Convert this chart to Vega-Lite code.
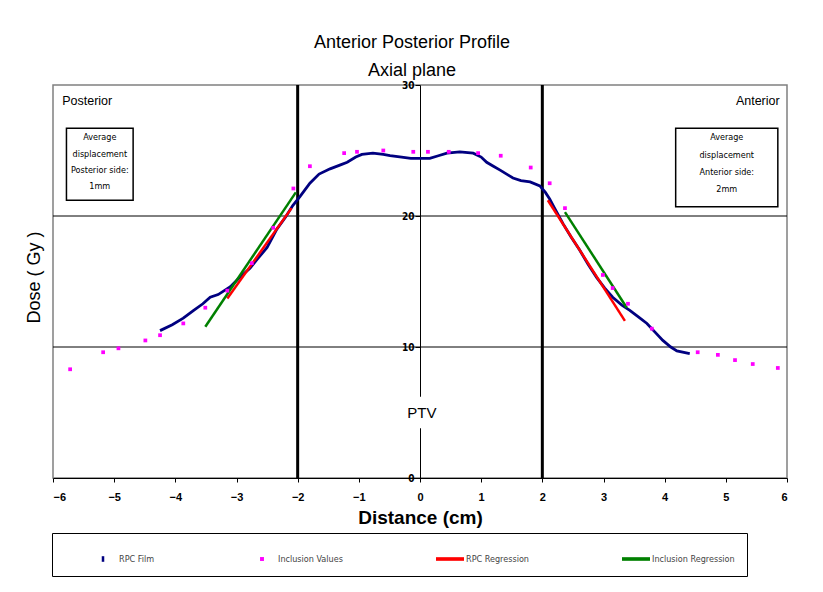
{
  "$schema": "https://vega.github.io/schema/vega-lite/v6.json",
  "autosize": "none",
  "width": 734,
  "height": 393,
  "padding": {"left": 53, "top": 85, "right": 36, "bottom": 114},
  "background": "white",
  "data": {"values": [{}]},
  "config": {
    "view": {"stroke": "#808080", "strokeWidth": 1.5},
    "font": "Liberation Sans"
  },
  "title": {
    "text": "Anterior Posterior Profile",
    "subtitle": "Axial plane",
    "fontSize": 18,
    "fontWeight": "normal",
    "subtitleFontSize": 18,
    "subtitleColor": "black",
    "subtitlePadding": 10,
    "font": "Liberation Sans",
    "subtitleFont": "Liberation Sans",
    "anchor": "middle",
    "dx": -8,
    "offset": 0
  },
  "datasets": {
    "film": [
      {"series": "RPC Film", "x": -4.25, "y": 11.25}, {"series": "RPC Film", "x": -4.05, "y": 11.7},
      {"series": "RPC Film", "x": -3.87, "y": 12.2}, {"series": "RPC Film", "x": -3.7, "y": 12.8},
      {"series": "RPC Film", "x": -3.55, "y": 13.3}, {"series": "RPC Film", "x": -3.43, "y": 13.8},
      {"series": "RPC Film", "x": -3.3, "y": 14.0}, {"series": "RPC Film", "x": -3.1, "y": 14.6},
      {"series": "RPC Film", "x": -2.95, "y": 15.3}, {"series": "RPC Film", "x": -2.78, "y": 16.0},
      {"series": "RPC Film", "x": -2.66, "y": 16.7}, {"series": "RPC Film", "x": -2.5, "y": 17.6},
      {"series": "RPC Film", "x": -2.34, "y": 19.0}, {"series": "RPC Film", "x": -2.2, "y": 19.9},
      {"series": "RPC Film", "x": -2.08, "y": 20.8}, {"series": "RPC Film", "x": -1.96, "y": 21.5},
      {"series": "RPC Film", "x": -1.8, "y": 22.5}, {"series": "RPC Film", "x": -1.65, "y": 23.2},
      {"series": "RPC Film", "x": -1.47, "y": 23.6}, {"series": "RPC Film", "x": -1.3, "y": 23.9},
      {"series": "RPC Film", "x": -1.19, "y": 24.1}, {"series": "RPC Film", "x": -1.05, "y": 24.5},
      {"series": "RPC Film", "x": -0.95, "y": 24.7}, {"series": "RPC Film", "x": -0.77, "y": 24.8},
      {"series": "RPC Film", "x": -0.6, "y": 24.7}, {"series": "RPC Film", "x": -0.49, "y": 24.6},
      {"series": "RPC Film", "x": -0.3, "y": 24.5}, {"series": "RPC Film", "x": -0.15, "y": 24.4},
      {"series": "RPC Film", "x": 0.0, "y": 24.4}, {"series": "RPC Film", "x": 0.16, "y": 24.4},
      {"series": "RPC Film", "x": 0.3, "y": 24.6}, {"series": "RPC Film", "x": 0.44, "y": 24.8},
      {"series": "RPC Film", "x": 0.65, "y": 24.9}, {"series": "RPC Film", "x": 0.87, "y": 24.8},
      {"series": "RPC Film", "x": 1.0, "y": 24.5}, {"series": "RPC Film", "x": 1.09, "y": 24.1},
      {"series": "RPC Film", "x": 1.2, "y": 23.8}, {"series": "RPC Film", "x": 1.31, "y": 23.5},
      {"series": "RPC Film", "x": 1.45, "y": 23.1}, {"series": "RPC Film", "x": 1.52, "y": 22.9},
      {"series": "RPC Film", "x": 1.65, "y": 22.7}, {"series": "RPC Film", "x": 1.8, "y": 22.6},
      {"series": "RPC Film", "x": 1.96, "y": 22.3}, {"series": "RPC Film", "x": 2.05, "y": 21.8},
      {"series": "RPC Film", "x": 2.12, "y": 21.3}, {"series": "RPC Film", "x": 2.2, "y": 20.6},
      {"series": "RPC Film", "x": 2.34, "y": 19.4}, {"series": "RPC Film", "x": 2.47, "y": 18.4},
      {"series": "RPC Film", "x": 2.61, "y": 17.4}, {"series": "RPC Film", "x": 2.75, "y": 16.3},
      {"series": "RPC Film", "x": 2.89, "y": 15.3}, {"series": "RPC Film", "x": 3.02, "y": 14.5},
      {"series": "RPC Film", "x": 3.15, "y": 13.8}, {"series": "RPC Film", "x": 3.3, "y": 13.2},
      {"series": "RPC Film", "x": 3.43, "y": 12.8}, {"series": "RPC Film", "x": 3.57, "y": 12.3},
      {"series": "RPC Film", "x": 3.71, "y": 11.8}, {"series": "RPC Film", "x": 3.85, "y": 11.1},
      {"series": "RPC Film", "x": 3.97, "y": 10.5}, {"series": "RPC Film", "x": 4.1, "y": 10.0},
      {"series": "RPC Film", "x": 4.2, "y": 9.7}, {"series": "RPC Film", "x": 4.41, "y": 9.5}
    ],
    "inclusion": [
      {"series": "Inclusion Values", "x": -5.72, "y": 8.3}, {"series": "Inclusion Values", "x": -5.18, "y": 9.6},
      {"series": "Inclusion Values", "x": -4.93, "y": 9.9}, {"series": "Inclusion Values", "x": -4.49, "y": 10.5},
      {"series": "Inclusion Values", "x": -4.25, "y": 10.9}, {"series": "Inclusion Values", "x": -3.87, "y": 11.8},
      {"series": "Inclusion Values", "x": -3.51, "y": 13.0}, {"series": "Inclusion Values", "x": -3.15, "y": 14.3},
      {"series": "Inclusion Values", "x": -2.75, "y": 16.4}, {"series": "Inclusion Values", "x": -2.4, "y": 19.1},
      {"series": "Inclusion Values", "x": -2.07, "y": 22.1}, {"series": "Inclusion Values", "x": -1.8, "y": 23.8},
      {"series": "Inclusion Values", "x": -1.24, "y": 24.8}, {"series": "Inclusion Values", "x": -1.03, "y": 24.9},
      {"series": "Inclusion Values", "x": -0.6, "y": 25.0}, {"series": "Inclusion Values", "x": -0.11, "y": 24.9},
      {"series": "Inclusion Values", "x": 0.13, "y": 24.9}, {"series": "Inclusion Values", "x": 0.47, "y": 24.9},
      {"series": "Inclusion Values", "x": 0.95, "y": 24.8}, {"series": "Inclusion Values", "x": 1.32, "y": 24.6},
      {"series": "Inclusion Values", "x": 1.81, "y": 23.7}, {"series": "Inclusion Values", "x": 2.12, "y": 22.5},
      {"series": "Inclusion Values", "x": 2.37, "y": 20.6}, {"series": "Inclusion Values", "x": 2.99, "y": 15.5},
      {"series": "Inclusion Values", "x": 3.15, "y": 14.5}, {"series": "Inclusion Values", "x": 3.4, "y": 13.3},
      {"series": "Inclusion Values", "x": 3.79, "y": 11.4}, {"series": "Inclusion Values", "x": 4.54, "y": 9.6},
      {"series": "Inclusion Values", "x": 4.87, "y": 9.4}, {"series": "Inclusion Values", "x": 5.15, "y": 9.0},
      {"series": "Inclusion Values", "x": 5.44, "y": 8.7}, {"series": "Inclusion Values", "x": 5.85, "y": 8.4}
    ],
    "regression": [
      {"series": "RPC Regression", "side": "posterior", "x": -3.15, "y": 13.7},
      {"series": "RPC Regression", "side": "posterior", "x": -2.1, "y": 20.6},
      {"series": "RPC Regression", "side": "anterior", "x": 2.09, "y": 21.2},
      {"series": "RPC Regression", "side": "anterior", "x": 3.35, "y": 12.0},
      {"series": "Inclusion Regression", "side": "posterior", "x": -3.51, "y": 11.55},
      {"series": "Inclusion Regression", "side": "posterior", "x": -2.03, "y": 21.8},
      {"series": "Inclusion Regression", "side": "anterior", "x": 2.37, "y": 20.3},
      {"series": "Inclusion Regression", "side": "anterior", "x": 3.38, "y": 13.0}
    ],
    "gridlines": [{"dose": 10}, {"dose": 20}],
    "margins": [{"distance": -2}, {"distance": 2}]
  },
  "layer": [
    {
      "data": {"name": "gridlines"},
      "mark": {"type": "rule", "color": "black", "strokeWidth": 1},
      "encoding": {
        "y": {"field": "dose", "type": "quantitative", "scale": {"domain": [0, 30], "nice": false},
          "axis": {
            "orient": "left", "offset": -367, "values": [0, 10, 20, 30], "grid": false, "format": "d",
            "domainColor": "black", "domainWidth": 1, "tickColor": "black", "tickSize": 5,
            "labelFontSize": 10, "labelColor": "black", "labelPadding": 1, "labelFontWeight": "bold",
            "labelFont": "DejaVu Sans Condensed, Liberation Sans",
            "title": "Dose ( Gy )", "titleFontSize": 18, "titleFontWeight": "normal", "titleColor": "black",
            "titleX": -386, "titleY": 192, "titleAngle": -90, "titleAlign": "center", "titleBaseline": "middle"
          }
        }
      }
    },
    {
      "data": {"name": "margins"},
      "mark": {"type": "rule", "color": "black", "strokeWidth": 3},
      "encoding": {
        "x": {"field": "distance", "type": "quantitative", "scale": {"domain": [-6, 6], "nice": false},
          "axis": {
            "values": [-6, -5, -4, -3, -2, -1, 0, 1, 2, 3, 4, 5, 6], "grid": false, "format": "d",
            "domainColor": "black", "tickColor": "black", "tickSize": 4,
            "labelFontSize": 11, "labelColor": "black", "labelPadding": 9, "labelFontWeight": "bold",
            "title": "Distance (cm)", "titleFontSize": 19, "titleFontWeight": "bold", "titleColor": "black",
            "titlePadding": 6
          }
        }
      }
    },
    {
      "mark": {"type": "rect", "fill": "white"},
      "encoding": {
        "x": {"datum": -0.08}, "x2": {"datum": 0.08},
        "y": {"datum": 3.8}, "y2": {"datum": 6.2}
      }
    },
    {
      "mark": {"type": "text", "fontSize": 15, "font": "Liberation Sans", "color": "black"},
      "encoding": {"x": {"datum": 0.03}, "y": {"datum": 5}, "text": {"value": "PTV"}}
    },
    {
      "data": {"name": "film"},
      "mark": {"type": "line", "strokeWidth": 2.8},
      "encoding": {
        "x": {"field": "x", "type": "quantitative"},
        "y": {"field": "y", "type": "quantitative"},
        "color": {
          "field": "series", "type": "nominal",
          "scale": {
            "domain": ["RPC Film", "Inclusion Values", "RPC Regression", "Inclusion Regression"],
            "range": ["#000080", "#FF00FF", "#FF0000", "#008000"]
          },
          "legend": {
            "orient": "none", "legendX": -1, "legendY": 448, "direction": "horizontal", "columns": 4,
            "title": " ", "titleOrient": "left", "titlePadding": 25, "titleFontSize": 4,
            "padding": 12, "strokeColor": "black", "fillColor": "white",
            "columnPadding": 93, "symbolSize": 784, "labelOffset": 2,
            "labelFontSize": 9, "labelColor": "#444444", "labelFont": "DejaVu Sans Condensed, Liberation Sans",
            "labelExpr": "datum.label == 'Inclusion Regression' ? datum.label + '              ' : datum.label",
            "encode": {
              "symbols": {
                "update": {
                  "shape": {"signal": "datum.value === 'RPC Film' ? 'M-0.09,-0.2H0.09V0.2H-0.09Z' : datum.value === 'Inclusion Values' ? 'M-0.14,-0.14H0.14V0.14H-0.14Z' : 'M-1,-0.13H1V0.13H-1Z'"},
                  "fill": {"scale": "color", "field": "value"},
                  "strokeWidth": {"value": 0},
                  "opacity": {"value": 1},
                  "fillOpacity": {"value": 1}
                }
              }
            }
          }
        }
      }
    },
    {
      "data": {"name": "regression"},
      "mark": {"type": "line", "strokeWidth": 2.5},
      "encoding": {
        "x": {"field": "x", "type": "quantitative"},
        "y": {"field": "y", "type": "quantitative"},
        "color": {"field": "series", "type": "nominal"},
        "detail": {"field": "side", "type": "nominal"}
      }
    },
    {
      "data": {"name": "inclusion"},
      "mark": {"type": "point", "shape": "square", "filled": true, "size": 14, "opacity": 1},
      "encoding": {
        "x": {"field": "x", "type": "quantitative"},
        "y": {"field": "y", "type": "quantitative"},
        "color": {"field": "series", "type": "nominal"}
      }
    },
    {
      "mark": {"type": "text", "align": "left", "fontSize": 12.5, "font": "Liberation Sans", "color": "black"},
      "encoding": {"x": {"datum": -5.85}, "y": {"datum": 28.8}, "text": {"value": "Posterior"}}
    },
    {
      "mark": {"type": "text", "align": "right", "fontSize": 12.5, "font": "Liberation Sans", "color": "black"},
      "encoding": {"x": {"datum": 5.88}, "y": {"datum": 28.8}, "text": {"value": "Anterior"}}
    },
    {
      "mark": {"type": "rect", "fill": "white", "stroke": "black", "strokeWidth": 1.5},
      "encoding": {
        "x": {"datum": -5.78}, "x2": {"datum": -4.69},
        "y": {"datum": 26.7}, "y2": {"datum": 21.2}
      }
    },
    {
      "mark": {"type": "rect", "fill": "white", "stroke": "black", "strokeWidth": 1.5},
      "encoding": {
        "x": {"datum": 4.18}, "x2": {"datum": 5.85},
        "y": {"datum": 26.7}, "y2": {"datum": 20.7}
      }
    },
    {
      "mark": {"type": "text", "align": "center", "baseline": "middle", "fontSize": 9, "lineHeight": 16.3, "font": "DejaVu Sans Condensed, Liberation Sans", "color": "black"},
      "encoding": {"x": {"datum": -5.235}, "y": {"datum": 26.0}, "text": {"value": ["Average", "displacement", "Posterior side:", "1mm"]}}
    },
    {
      "mark": {"type": "text", "align": "center", "baseline": "middle", "fontSize": 9, "lineHeight": 17.3, "font": "DejaVu Sans Condensed, Liberation Sans", "color": "black"},
      "encoding": {"x": {"datum": 5.015}, "y": {"datum": 26.0}, "text": {"value": ["Average", "displacement", "Anterior side:", "2mm"]}}
    }
  ]
}
